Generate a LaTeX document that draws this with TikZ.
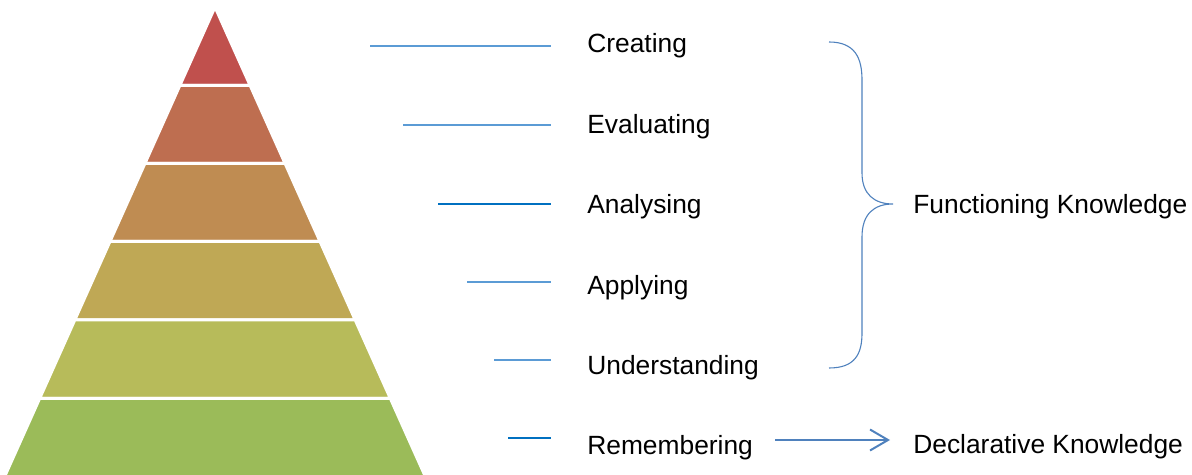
\documentclass[tikz,border=0pt]{standalone}
\usepackage{fontspec}
\setmainfont{Liberation Sans}
\usetikzlibrary{arrows.meta}

\definecolor{lvlA}{HTML}{C0504D}
\definecolor{lvlB}{HTML}{BE6E50}
\definecolor{lvlC}{HTML}{BF8C52}
\definecolor{lvlD}{HTML}{BFA855}
\definecolor{lvlE}{HTML}{B7BB5A}
\definecolor{lvlF}{HTML}{9BBB59}
\definecolor{lightline}{HTML}{5B9BD5}
\definecolor{darkline}{HTML}{0070C0}
\definecolor{bracecol}{HTML}{4F81BD}

\begin{document}
\begin{tikzpicture}[x=0.02cm, y=-0.02cm]

    \tikzset{level/.style={draw=white, line width=0.06cm, line join=miter}};
    \tikzset{label/.style={anchor=base west, inner sep=0pt,%
      font=\fontsize{15}{18}\selectfont}};
    \tikzset{tick/.style={draw=lightline, line width=0.028cm}};
    \tikzset{darktick/.style={tick, draw=darkline}};
    \tikzset{arr/.style={draw=bracecol, line width=0.04cm,%
      -{Straight Barb[length=0.36cm, width=0.42cm]}}};

    \useasboundingbox (0, 0) rectangle (1192, 475);

    %%%%%%%%%%%%%%%
    %  pyramid    %
    %%%%%%%%%%%%%%%
    \foreach \top/\bot/\col in {7/85.5/lvlA, 85.5/163.5/lvlB, 163.5/241.5/lvlC,
                                241.5/320/lvlD, 320/398.5/lvlE, 398.5/480/lvlF}
      \path [level, fill=\col]
        ({215-0.448*(\top-7)}, \top) -- ({215+0.448*(\top-7)}, \top)
        -- ({215+0.448*(\bot-7)}, \bot) -- ({215-0.448*(\bot-7)}, \bot) -- cycle;

    %%%%%%%%%%%%%%%
    %  levels     %
    %%%%%%%%%%%%%%%
    \path (587, 53) node [label] (cre) {Creating};
    \path (587, 133.4) node [label] (eva) {Evaluating};
    \path (587, 213.8) node [label] (ana) {Analysing};
    \path (587, 294.2) node [label] (app) {Applying};
    \path (587, 374.6) node [label] (und) {Understanding};
    \path (587, 455) node [label] (rem) {Remembering};

    \path (370, 46) coordinate (creA) (551, 46) coordinate (creB);
    \path (403, 125) coordinate (evaA) (551, 125) coordinate (evaB);
    \path (438, 204) coordinate (anaA) (551, 204) coordinate (anaB);
    \path (467, 282) coordinate (appA) (551, 282) coordinate (appB);
    \path (494, 360) coordinate (undA) (551, 360) coordinate (undB);
    \path (508, 438) coordinate (remA) (551, 438) coordinate (remB);

    \draw [tick] (creA) -- (creB);
    \draw [tick] (evaA) -- (evaB);
    \draw [darktick] (anaA) -- (anaB);
    \draw [tick] (appA) -- (appB);
    \draw [tick] (undA) -- (undB);
    \draw [darktick] (remA) -- (remB);

    %%%%%%%%%%%%%%%
    %  knowledge  %
    %%%%%%%%%%%%%%%
    \path (913, 213.3) node [label] (fun) {Functioning Knowledge};
    \path (913, 454) node [label] (dec) {Declarative Knowledge};

    \path (829, 42) coordinate (brtop) (893, 204) coordinate (brtip)
          (829, 368) coordinate (brbot);
    \draw [draw=bracecol, line width=0.022cm]
      (brtop) .. controls (855, 42) and (862, 58) .. (862, 80) -- (862, 173)
      .. controls (862, 194) and (874, 204) .. (brtip)
      .. controls (874, 204) and (862, 214) .. (862, 237) -- (862, 333)
      .. controls (862, 354) and (855, 368) .. (brbot);

    \path (775, 440) coordinate (arrA) (890, 440) coordinate (arrB);
    \draw [arr] (arrA) -- (arrB);

  \end{tikzpicture}
\end{document}
